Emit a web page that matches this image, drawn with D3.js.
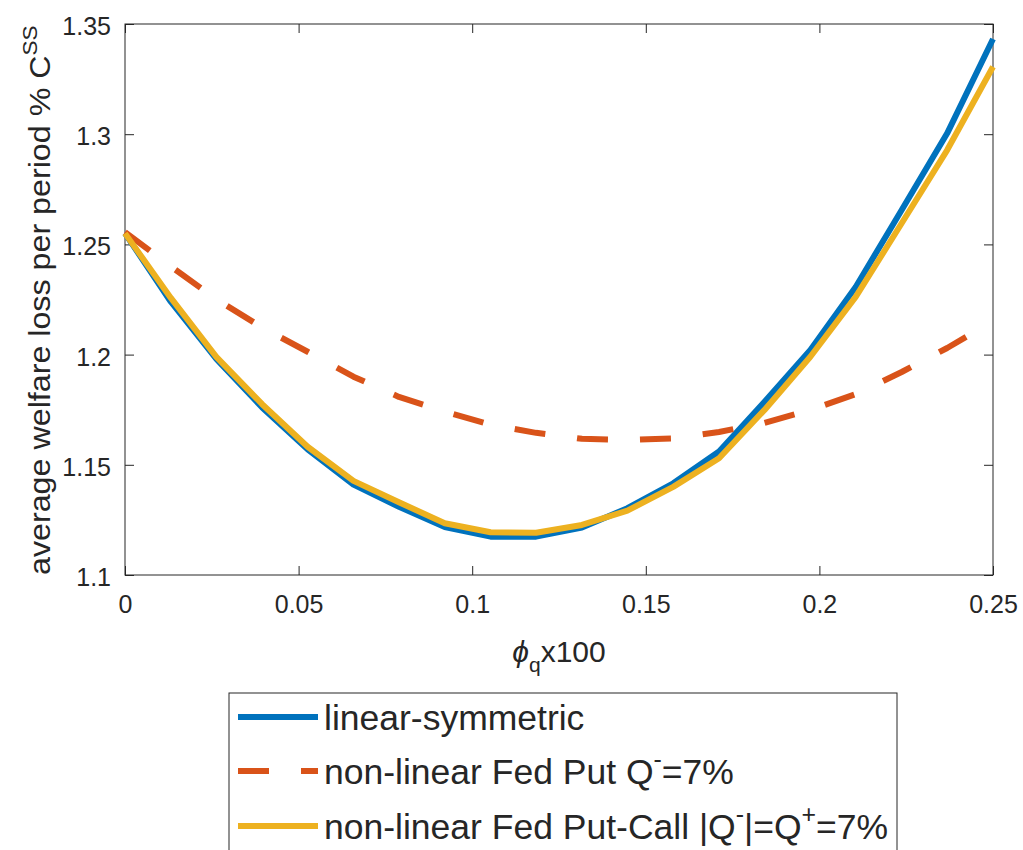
<!DOCTYPE html>
<html><head><meta charset="utf-8">
<script src="https://cdn.jsdelivr.net/npm/d3@7"></script>
<style>
body{margin:0;background:#fff}
text{font-family:"Liberation Sans", Arial, Helvetica, sans-serif; fill:#262626}
</style>
</head><body>
<svg id="chart" width="1023" height="850"></svg>
<script>
// ---- data ----
const phiQ = [0, 0.0132, 0.0263, 0.0395, 0.0526, 0.0658, 0.0789, 0.0921, 0.1053, 0.1184,
              0.1316, 0.1447, 0.1579, 0.1711, 0.1842, 0.1974, 0.2105, 0.2237, 0.2368, 0.25];
const linearSymmetric = [1.255, 1.224, 1.198, 1.176, 1.157, 1.141, 1.131, 1.1218, 1.1174, 1.1174,
                         1.1215, 1.1303, 1.1416, 1.156, 1.1786, 1.2021, 1.2308, 1.2656, 1.3004, 1.3432];
const fedPut = [1.2556, 1.240, 1.2251, 1.2123, 1.2013, 1.190, 1.1808, 1.1741, 1.1682, 1.1645,
                1.1618, 1.1613, 1.162, 1.1649, 1.169, 1.1749, 1.1821, 1.1921, 1.203, 1.2152];
const fedPutCall = [1.255, 1.2257, 1.199, 1.1775, 1.1582, 1.1427, 1.133, 1.1235, 1.1194, 1.1192,
                    1.1227, 1.1292, 1.140, 1.153, 1.1749, 1.199, 1.2263, 1.2596, 1.2928, 1.3306];
const seriesNames = ["linear-symmetric", "non-linear Fed Put Q^-=7%", "non-linear Fed Put-Call |Q^-|=Q^+=7%"];
const seriesColors = ["#0072BD", "#D95319", "#EDB120"];
const xTicks = [0, 0.05, 0.1, 0.15, 0.2, 0.25];
const xTickLabels = ["0", "0.05", "0.1", "0.15", "0.2", "0.25"];
const yTicks = [1.1, 1.15, 1.2, 1.25, 1.3, 1.35];
const yTickLabels = ["1.1", "1.15", "1.2", "1.25", "1.3", "1.35"];

// ---- layout ----
const L = 125, R = 993, T = 24, B = 575;
const axisColor = "#262626";
const svg = d3.select("#chart");
const x = d3.scaleLinear().domain([0, 0.25]).range([L, R]);
const y = d3.scaleLinear().domain([1.1, 1.35]).range([B, T]);

// axes
const gx = svg.append("g").attr("transform", `translate(0,${B})`)
  .call(d3.axisBottom(x).tickValues(xTicks).tickFormat((d,i)=>xTickLabels[i]).tickSize(-9).tickPadding(20));
const gy = svg.append("g").attr("transform", `translate(${L},0)`)
  .call(d3.axisLeft(y).tickValues(yTicks).tickFormat((d,i)=>yTickLabels[i]).tickSize(-9).tickPadding(14));
const gt = svg.append("g").attr("transform", `translate(0,${T})`)
  .call(d3.axisTop(x).tickValues(xTicks).tickFormat("").tickSize(-9));
const gr = svg.append("g").attr("transform", `translate(${R},0)`)
  .call(d3.axisRight(y).tickValues(yTicks).tickFormat("").tickSize(-9));
[gx, gy, gt, gr].forEach(g => {
  g.select(".domain").remove();
  g.selectAll("line").attr("stroke", axisColor).attr("stroke-width", 1);
  g.selectAll("text").attr("font-size", 25).attr("fill", axisColor)
    .style("font-family", '"Liberation Sans", Arial, sans-serif');
});
gy.selectAll("text").attr("dy", "0.42em");
svg.append("rect").attr("x", L).attr("y", T).attr("width", R - L).attr("height", B - T)
  .attr("fill", "none").attr("stroke", axisColor).attr("stroke-width", 1);

// lines
const line = d3.line().x((d,i)=>x(phiQ[i])).y(d=>y(d));
const series = [linearSymmetric, fedPut, fedPutCall];
series.forEach((s, k) => {
  svg.append("path").datum(s).attr("d", line)
    .attr("fill", "none").attr("stroke", seriesColors[k]).attr("stroke-width", 6)
    .attr("stroke-linejoin", "round")
    .attr("stroke-dasharray", k === 1 ? "31,32" : null);
});

// helper: rich text with ^x superscripts and _x subscripts
function addRich(textSel, str, size) {
  const re = /([\^_])(.)/g;
  let last = 0, m;
  const parts = [];
  while ((m = re.exec(str)) !== null) {
    if (m.index > last) parts.push({t: str.slice(last, m.index), k: "n"});
    parts.push({t: m[2], k: m[1] === "^" ? "sup" : "sub"});
    last = m.index + 2;
  }
  if (last < str.length) parts.push({t: str.slice(last), k: "n"});
  let shift = 0;
  parts.forEach(p => {
    const ts = textSel.append("tspan").text(p.t);
    let target = p.k === "sup" ? -0.45 * size : p.k === "sub" ? 0.3 * size : 0;
    ts.attr("dy", target - shift);
    shift = target;
    if (p.k !== "n") ts.attr("font-size", size * 0.7);
  });
}

// x label
const xl = svg.append("text").attr("x", 0).attr("y", 662).attr("font-size", 30);
xl.append("tspan").text("ϕ").attr("font-style", "italic");
xl.append("tspan").text("q").attr("font-size", 21).attr("dy", 10);
xl.append("tspan").text("x100").attr("dy", -10);
const xlw = xl.node().getBBox().width;
xl.attr("x", (L + R) / 2 - xlw / 2);

// y label
const yl = svg.append("text").attr("x", 0).attr("y", 0).attr("font-size", 30);
addRich(yl, "average welfare loss per period % C^S", 30);
yl.selectAll("tspan").filter((d,i,n)=>i===n.length-1).text("SS");
const ylw = yl.node().getBBox().width;
const ys = Math.max(0.9, Math.min(1.12, 550 / ylw));
yl.attr("transform", `translate(50,575) rotate(-90) scale(${ys},1)`);

// legend
const lg = svg.append("g");
lg.append("rect").attr("x", 229).attr("y", 693).attr("width", 668).attr("height", 200)
  .attr("fill", "#fff").attr("stroke", axisColor).attr("stroke-width", 1);
const rowY = [717, 771, 826];
seriesNames.forEach((name, k) => {
  lg.append("line").attr("x1", 238).attr("x2", 318).attr("y1", rowY[k]).attr("y2", rowY[k])
    .attr("stroke", seriesColors[k]).attr("stroke-width", 6)
    .attr("stroke-dasharray", k === 1 ? "31,32" : null);
  const t = lg.append("text").attr("x", 324).attr("y", rowY[k] + 13).attr("font-size", 35.5);
  addRich(t, name, 35.5);
});
</script>
</body></html>
